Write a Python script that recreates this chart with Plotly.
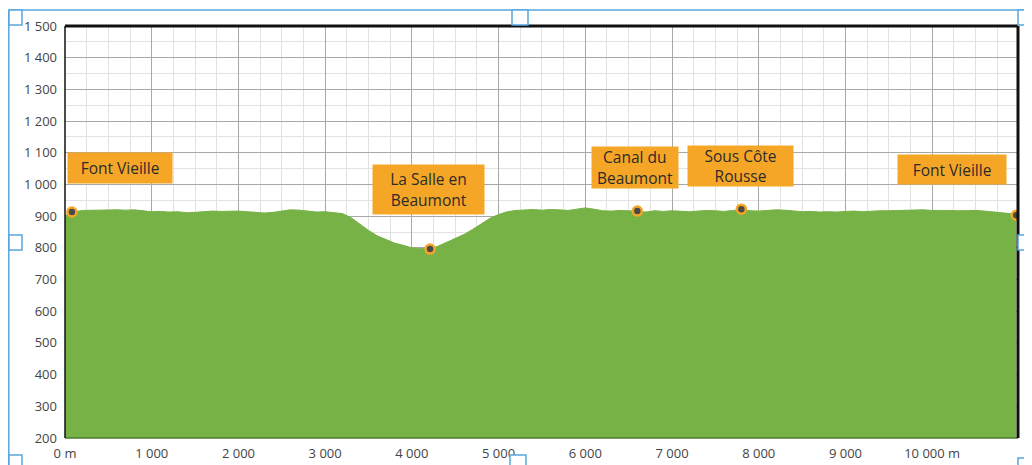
import plotly.graph_objects as go

# ---------------- data ----------------
distance_m = [0, 100, 200, 300, 400, 500, 600, 700, 800, 900,
              1000, 1100, 1200, 1300, 1400, 1500, 1600, 1700, 1800, 1900,
              2000, 2100, 2200, 2300, 2400, 2500, 2600, 2700, 2800, 2900,
              3000, 3100, 3200, 3300, 3400, 3500, 3600, 3700, 3800, 3900,
              4000, 4100, 4200, 4300, 4400, 4500, 4600, 4700, 4800, 4900,
              5000, 5100, 5200, 5300, 5400, 5500, 5600, 5700, 5800, 5900,
              6000, 6100, 6200, 6300, 6400, 6500, 6600, 6700, 6800, 6900,
              7000, 7100, 7200, 7300, 7400, 7500, 7600, 7700, 7800, 7900,
              8000, 8100, 8200, 8300, 8400, 8500, 8600, 8700, 8800, 8900,
              9000, 9100, 9200, 9300, 9400, 9500, 9600, 9700, 9800, 9900,
              10000, 10100, 10200, 10300, 10400, 10500, 10600, 10700, 10800, 10900,
              10970]
elevation_m = [902, 913, 918, 919, 920, 920, 920, 919, 920, 917,
               914, 915, 913, 914, 911, 912, 914, 916, 915, 916,
               916, 914, 913, 910, 912, 917, 920, 919, 916, 913,
               914, 912, 908, 895, 875, 855, 838, 827, 815, 808,
               800, 798, 796, 805, 818, 830, 842, 858, 875, 893,
               905, 914, 918, 920, 921, 919, 921, 920, 918, 922,
               926, 922, 917, 916, 918, 917, 915, 913, 917, 915,
               917, 916, 914, 916, 918, 917, 915, 918, 920, 917,
               916, 918, 920, 919, 916, 914, 915, 913, 914, 913,
               915, 916, 914, 916, 917, 917, 918, 920, 921, 920,
               918, 919, 918, 917, 918, 918, 916, 914, 912, 908,
               902]

waypoint_names = ["Font Vieille", "La Salle en<br>Beaumont", "Canal du<br>Beaumont",
                  "Sous Côte<br>Rousse", "Font Vieille"]
waypoint_dist = [80, 4210, 6600, 7800, 10970]
waypoint_elev = [913, 796, 916, 922, 903]
label_x = [635, 4190, 6575, 7790, 10225]
label_y = [1052, 983, 1052, 1058, 1046]
label_w = [100, 107, 82, 101, 104]
label_h = [26, 45, 37, 36, 25]

y_tickvals = list(range(200, 1600, 100))
y_ticktext = ["200", "300", "400", "500", "600", "700", "800", "900",
              "1 000", "1 100", "1 200", "1 300", "1 400", "1 500"]
x_tickvals = list(range(0, 11000, 1000))
x_ticktext = ["0 m", "1 000", "2 000", "3 000", "4 000", "5 000",
              "6 000", "7 000", "8 000", "9 000", "10 000 m"]

# ---------------- style ----------------
GREEN = "#76B246"
ORANGE = "#F6A626"
BLUE = "#5AA6DC"
FONT = "Open Sans"
OFF = 8                      # page body margin
W, H = 1032 - OFF, 465 - OFF
L, R, T, B = 57, 14, 18, 27
PW, PH = W - L - R, H - T - B


def px(x_page):
    return (x_page - OFF - L) / PW


def py(y_page):
    return (H - B - (y_page - OFF)) / PH


fig = go.Figure()
fig.add_trace(go.Scatter(
    x=distance_m, y=elevation_m, mode="lines",
    line=dict(color=GREEN, width=1, shape="linear"),
    fill="tozeroy", fillcolor=GREEN, hoverinfo="skip", showlegend=False))

fig.add_trace(go.Scatter(
    x=waypoint_dist, y=waypoint_elev, mode="markers",
    marker=dict(size=9, color="#4a4a4a", line=dict(color=ORANGE, width=2.5)),
    showlegend=False, hoverinfo="skip"))

for name, x, y, w, h in zip(waypoint_names, label_x, label_y, label_w, label_h):
    fig.add_annotation(x=x, y=y, text=name, showarrow=False,
                       bgcolor=ORANGE, borderpad=2, width=w, height=h,
                       font=dict(family=FONT, size=15.5, color="#2b2b2b"),
                       align="center", valign="middle")

shapes = []
# plot frame
shapes.append(dict(type="line", xref="paper", yref="paper", x0=0, x1=1, y0=0, y1=0,
                   line=dict(color="#4E7A2E", width=1.5), layer="above"))
shapes.append(dict(type="line", xref="paper", yref="paper", x0=0, x1=0, y0=0, y1=1,
                   line=dict(color="#111111", width=1.5), layer="above"))
shapes.append(dict(type="line", xref="paper", yref="paper", x0=0, x1=1, y0=1, y1=1,
                   line=dict(color="#111111", width=3), layer="above"))
shapes.append(dict(type="line", xref="paper", yref="paper", x0=1, x1=1, y0=0, y1=1,
                   line=dict(color="#111111", width=3), layer="above"))
# editor frame decorations
shapes.append(dict(type="line", xref="paper", yref="paper", x0=px(8.8), x1=px(8.8),
                   y0=py(10), y1=py(470), line=dict(color=BLUE, width=1.5), layer="above"))
shapes.append(dict(type="line", xref="paper", yref="paper", x0=px(8.8), x1=px(1032),
                   y0=py(10), y1=py(10), line=dict(color=BLUE, width=1.5), layer="above"))
for (x0, y0, x1, y1) in [(9, 10, 22, 25), (512, 10, 528, 25), (1018, 10, 1034, 25),
                         (9, 235, 22, 250), (1018, 235, 1034, 250),
                         (9, 455, 22, 470), (510, 455, 526, 470), (1018, 458, 1034, 470)]:
    shapes.append(dict(type="rect", xref="paper", yref="paper",
                       x0=px(x0), x1=px(x1), y0=py(y1), y1=py(y0),
                       line=dict(color=BLUE, width=1.5), fillcolor="white", layer="above"))

fig.update_layout(
    width=W, height=H,
    margin=dict(l=L, r=R, t=T, b=B, autoexpand=False),
    paper_bgcolor="white", plot_bgcolor="white",
    font=dict(family=FONT, size=13, color="#444"),
    shapes=shapes,
    xaxis=dict(range=[0, 10990], tickvals=x_tickvals, ticktext=x_ticktext,
               showgrid=True, gridcolor="#a8a8a8", gridwidth=1,
               minor=dict(dtick=250, tick0=0, showgrid=True, gridcolor="#e2e2e2", gridwidth=1),
               zeroline=False, showline=False, ticks="", ticklabelstandoff=6,
               automargin=False,
               tickfont=dict(family=FONT, size=13, color="#444")),
    yaxis=dict(range=[200, 1500], tickvals=y_tickvals, ticktext=y_ticktext,
               showgrid=True, gridcolor="#a8a8a8", gridwidth=1,
               minor=dict(dtick=50, tick0=0, showgrid=True, gridcolor="#e2e2e2", gridwidth=1),
               zeroline=False, showline=False, ticks="", ticklabelstandoff=7,
               automargin=False,
               tickfont=dict(family=FONT, size=13, color="#444")),
)

fig.write_html("out.html")
